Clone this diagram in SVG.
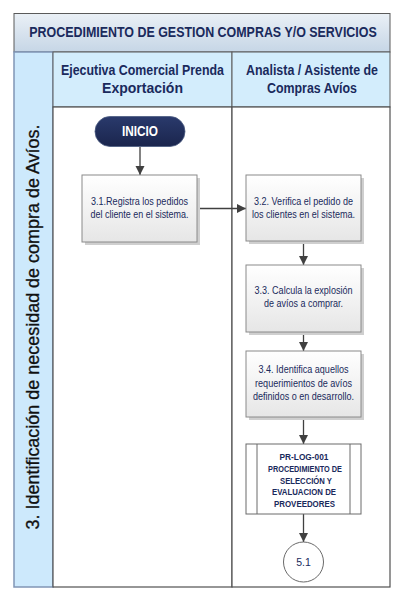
<svg xmlns="http://www.w3.org/2000/svg" width="417" height="597" viewBox="0 0 417 597">
<defs>
<linearGradient id="gTitle" x1="0" y1="0" x2="0" y2="1">
<stop offset="0" stop-color="#eaf0f6"/>
<stop offset="1" stop-color="#c6d6e6"/>
</linearGradient>
<linearGradient id="gBox" x1="0" y1="0" x2="0" y2="1">
<stop offset="0" stop-color="#ffffff"/>
<stop offset="1" stop-color="#e6e6e6"/>
</linearGradient>
<linearGradient id="gStart" x1="0" y1="0" x2="0" y2="1">
<stop offset="0" stop-color="#2a3a6c"/>
<stop offset="1" stop-color="#1a254d"/>
</linearGradient>
<marker id="arr" markerWidth="10" markerHeight="10" refX="9" refY="5" orient="auto" markerUnits="userSpaceOnUse">
<path d="M0,0.5 L9,5 L0,9.5 Z" fill="#404040"/>
</marker>
</defs>
<style>
.hdr{font-family:"Liberation Sans",Arial,sans-serif;font-weight:bold;fill:#1a2a5c;text-anchor:middle}
.box{fill:url(#gBox);stroke:#8a8a8a;stroke-width:1}
.shadow{fill:#cfcfcf}
.bt{font-family:"Liberation Sans",Arial,sans-serif;font-size:11px;fill:#1a2a5c;text-anchor:middle}
.pt{font-family:"Liberation Sans",Arial,sans-serif;font-size:8.5px;font-weight:bold;fill:#1a2a5c;text-anchor:middle}
.conn{stroke:#404040;stroke-width:1.3;fill:none;marker-end:url(#arr)}
</style>
<rect width="417" height="597" fill="#ffffff"/>
<g id="pool">
<rect x="14" y="13.5" width="376" height="38.5" fill="url(#gTitle)" stroke="#5a5a5a" stroke-width="1"/>
<text class="hdr" x="0" y="0" font-size="15" transform="translate(203,37) scale(0.83,1)">PROCEDIMIENTO DE GESTION COMPRAS Y/O SERVICIOS</text>
<rect x="14" y="52" width="39" height="535" fill="#cde9fc" stroke="#8095b5" stroke-width="1.5"/>
<text x="39" y="327" transform="rotate(-90 39 327)" font-family="Liberation Sans,Arial,sans-serif" font-size="18" fill="#111111" stroke="#111111" stroke-width="0.3" text-anchor="middle" textLength="405" lengthAdjust="spacingAndGlyphs">3. Identificación de necesidad de compra de Avíos.</text>
</g>
<g id="lane1">
<rect x="53" y="52" width="179" height="55" fill="#d3edfc" stroke="#5a5a5a" stroke-width="1"/>
<text class="hdr" x="142.5" y="75" font-size="14" textLength="163" lengthAdjust="spacingAndGlyphs">Ejecutiva Comercial Prenda</text>
<text class="hdr" x="142.5" y="93" font-size="14">Exportación</text>
<rect x="53" y="107" width="179" height="480" fill="#ffffff" stroke="#505050" stroke-width="1.2"/>
</g>
<g id="lane2">
<rect x="232" y="52" width="158" height="55" fill="#d3edfc" stroke="#5a5a5a" stroke-width="1"/>
<text class="hdr" x="312" y="75" font-size="14" textLength="132" lengthAdjust="spacingAndGlyphs">Analista / Asistente de</text>
<text class="hdr" x="312" y="93" font-size="14" textLength="90" lengthAdjust="spacingAndGlyphs">Compras Avíos</text>
<rect x="232" y="107" width="158" height="480" fill="#ffffff" stroke="#505050" stroke-width="1.2"/>
</g>
<g id="connectors">
<line class="conn" x1="140" y1="147" x2="140" y2="175"/>
<line class="conn" x1="197" y1="208.5" x2="246" y2="208.5"/>
<line class="conn" x1="303.5" y1="241" x2="303.5" y2="265"/>
<line class="conn" x1="303.5" y1="332" x2="303.5" y2="351"/>
<line class="conn" x1="303.5" y1="417" x2="303.5" y2="444"/>
<line class="conn" x1="303.5" y1="514" x2="303.5" y2="542"/>
</g>
<g id="inicio">
<rect x="95" y="116.5" width="90" height="30" rx="15" fill="url(#gStart)" stroke="#4a5a80" stroke-width="0.8"/>
<text x="140" y="136" font-family="Liberation Sans,Arial,sans-serif" font-size="14" font-weight="bold" fill="#ffffff" text-anchor="middle" textLength="36" lengthAdjust="spacingAndGlyphs">INICIO</text>
</g>
<g id="n31">
<rect class="shadow" x="85" y="178" width="115" height="67"/>
<rect class="box" x="82" y="175" width="115" height="67"/>
<text class="bt" x="139.5" y="205" textLength="97" lengthAdjust="spacingAndGlyphs">3.1.Registra los pedidos</text>
<text class="bt" x="139.5" y="218" textLength="98" lengthAdjust="spacingAndGlyphs">del cliente en el sistema.</text>
</g>
<g id="n32">
<rect class="shadow" x="249" y="178" width="115" height="66"/>
<rect class="box" x="246" y="175" width="115" height="66"/>
<text class="bt" x="303.5" y="205" textLength="99" lengthAdjust="spacingAndGlyphs">3.2. Verifica el pedido de</text>
<text class="bt" x="303.5" y="218" textLength="103" lengthAdjust="spacingAndGlyphs">los clientes en el sistema.</text>
</g>
<g id="n33">
<rect class="shadow" x="249" y="268" width="115" height="67"/>
<rect class="box" x="246" y="265" width="115" height="67"/>
<text class="bt" x="303.5" y="294" textLength="98" lengthAdjust="spacingAndGlyphs">3.3. Calcula la explosión</text>
<text class="bt" x="303.5" y="307" textLength="79" lengthAdjust="spacingAndGlyphs">de avíos a comprar.</text>
</g>
<g id="n34">
<rect class="shadow" x="249" y="354" width="115" height="66"/>
<rect class="box" x="246" y="351" width="115" height="66"/>
<text class="bt" x="303.5" y="373" textLength="90" lengthAdjust="spacingAndGlyphs">3.4. Identifica aquellos</text>
<text class="bt" x="303.5" y="386.5" textLength="97" lengthAdjust="spacingAndGlyphs">requerimientos de avíos</text>
<text class="bt" x="303.5" y="400" textLength="101" lengthAdjust="spacingAndGlyphs">definidos o en desarrollo.</text>
</g>
<g id="pr">
<rect x="246" y="444" width="115" height="70" fill="#ffffff" stroke="#6a6a6a" stroke-width="1"/>
<line x1="257" y1="444" x2="257" y2="514" stroke="#6a6a6a" stroke-width="1"/>
<line x1="350" y1="444" x2="350" y2="514" stroke="#6a6a6a" stroke-width="1"/>
<text class="pt" x="304" y="460" textLength="49" lengthAdjust="spacingAndGlyphs">PR-LOG-001</text>
<text class="pt" x="305" y="472" textLength="74" lengthAdjust="spacingAndGlyphs">PROCEDIMIENTO DE</text>
<text class="pt" x="306" y="483.5" textLength="52" lengthAdjust="spacingAndGlyphs">SELECCIÓN Y</text>
<text class="pt" x="304" y="495" textLength="64" lengthAdjust="spacingAndGlyphs">EVALUACION DE</text>
<text class="pt" x="304.5" y="507" textLength="61" lengthAdjust="spacingAndGlyphs">PROVEEDORES</text>
</g>
<g id="c51">
<circle cx="303.5" cy="562" r="20" fill="#ffffff" stroke="#6a6a6a" stroke-width="1"/>
<text x="303.5" y="566" font-family="Liberation Sans,Arial,sans-serif" font-size="10.5" fill="#1a2a5c" text-anchor="middle">5.1</text>
</g>
</svg>
